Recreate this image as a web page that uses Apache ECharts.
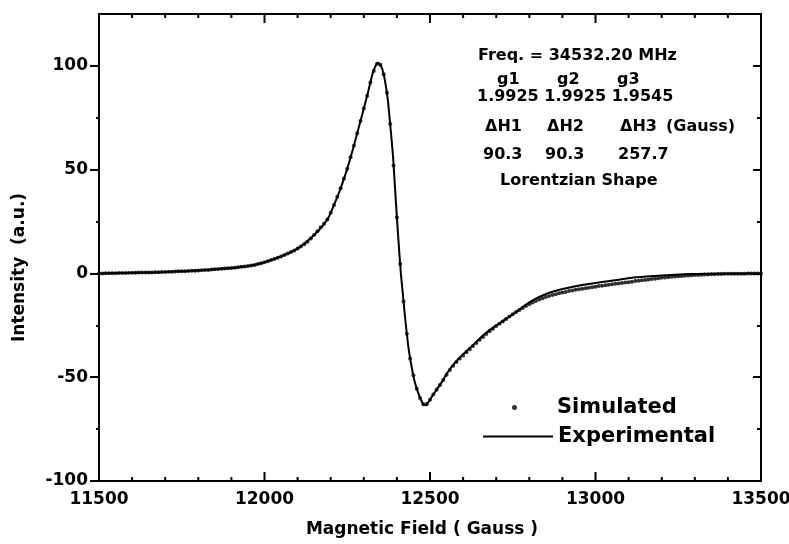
<!DOCTYPE html>
<html>
<head>
<meta charset="utf-8">
<script src="https://cdn.jsdelivr.net/npm/echarts@6/dist/echarts.min.js"></script>
<style>
  html, body { margin: 0; padding: 0; background: #fff; }
  #chart { width: 789px; height: 544px; }
</style>
</head>
<body>
<div id="chart"></div>
<script>
// EPR spectrum: experimental trace vs. simulated Lorentzian fit

// Experimental trace (field in Gauss, intensity in a.u.)
const expField = [
  11500, 11600, 11700, 11800, 11900, 11960, 12000, 12050, 12100, 12150,
  12190, 12210, 12230, 12250, 12270, 12290, 12310, 12328, 12343, 12352,
  12360, 12367, 12373, 12379, 12388, 12394, 12400, 12406, 12412, 12418,
  12424, 12430, 12436, 12448, 12457, 12469, 12478, 12485, 12495, 12505,
  12520, 12535, 12550, 12565, 12590, 12610, 12630, 12655, 12680, 12710,
  12735, 12760, 12785, 12810, 12835, 12870, 12915, 12960, 13015, 13070,
  13115, 13180, 13240, 13300, 13400, 13500
];
const expValue = [
  0, 0.3, 0.7, 1.4, 2.6, 3.8, 5.4, 8.2, 12, 18.5,
  26, 33, 41, 50.5, 61.5, 73.5, 85.5, 97, 101.5, 100,
  96, 90, 83, 73, 57, 42, 27, 13, 0, -10,
  -20, -29, -37, -48, -54, -59.5, -62.5, -63.5, -62, -59.5,
  -56, -52.5, -48.5, -45, -40.5, -37.5, -34.5, -30.6, -27.3, -24,
  -21.3, -18.6, -15.6, -13, -11, -8.8, -7, -5.6, -4.2, -3,
  -2, -1.2, -0.6, -0.3, -0.1, 0
];

// Simulated spectrum, sampled every 10 G
const simField = [
  11500, 11510, 11520, 11530, 11540, 11550, 11560, 11570, 11580, 11590,
  11600, 11610, 11620, 11630, 11640, 11650, 11660, 11670, 11680, 11690,
  11700, 11710, 11720, 11730, 11740, 11750, 11760, 11770, 11780, 11790,
  11800, 11810, 11820, 11830, 11840, 11850, 11860, 11870, 11880, 11890,
  11900, 11910, 11920, 11930, 11940, 11950, 11960, 11970, 11980, 11990,
  12000, 12010, 12020, 12030, 12040, 12050, 12060, 12070, 12080, 12090,
  12100, 12110, 12120, 12130, 12140, 12150, 12160, 12170, 12180, 12190,
  12200, 12210, 12220, 12230, 12240, 12250, 12260, 12270, 12280, 12290,
  12300, 12310, 12320, 12330, 12340, 12350, 12360, 12370, 12380, 12390,
  12400, 12410, 12420, 12430, 12440, 12450, 12460, 12470, 12480, 12490,
  12500, 12510, 12520, 12530, 12540, 12550, 12560, 12570, 12580, 12590,
  12600, 12610, 12620, 12630, 12640, 12650, 12660, 12670, 12680, 12690,
  12700, 12710, 12720, 12730, 12740, 12750, 12760, 12770, 12780, 12790,
  12800, 12810, 12820, 12830, 12840, 12850, 12860, 12870, 12880, 12890,
  12900, 12910, 12920, 12930, 12940, 12950, 12960, 12970, 12980, 12990,
  13000, 13010, 13020, 13030, 13040, 13050, 13060, 13070, 13080, 13090,
  13100, 13110, 13120, 13130, 13140, 13150, 13160, 13170, 13180, 13190,
  13200, 13210, 13220, 13230, 13240, 13250, 13260, 13270, 13280, 13290,
  13300, 13310, 13320, 13330, 13340, 13350, 13360, 13370, 13380, 13390,
  13400, 13410, 13420, 13430, 13440, 13450, 13460, 13470, 13480, 13490,
  13500
];
const simValue = [
  0.0, 0.0, 0.1, 0.1, 0.1, 0.1, 0.2, 0.2, 0.2, 0.3,
  0.3, 0.3, 0.4, 0.4, 0.4, 0.5, 0.5, 0.6, 0.6, 0.7,
  0.7, 0.8, 0.8, 0.9, 1.0, 1.0, 1.1, 1.2, 1.3, 1.3,
  1.4, 1.5, 1.6, 1.7, 1.9, 2.0, 2.1, 2.3, 2.4, 2.5,
  2.6, 2.8, 3.0, 3.2, 3.4, 3.6, 3.8, 4.1, 4.5, 4.9,
  5.4, 5.9, 6.5, 7.0, 7.6, 8.2, 8.9, 9.6, 10.3, 11.1,
  12.0, 13.0, 14.1, 15.3, 16.8, 18.5, 20.3, 22.2, 24.0, 26.0,
  29.3, 33.0, 37.0, 41.0, 45.7, 50.5, 56.0, 61.5, 67.5, 73.5,
  79.5, 85.5, 92.0, 97.5, 101.0, 100.6, 96.0, 87.0, 72.0, 52.0,
  27.0, 4.5, -13.5, -29.0, -41.0, -49.0, -55.5, -60.0, -63.0, -63.0,
  -60.8, -58.3, -56.0, -53.7, -51.3, -48.8, -46.5, -44.5, -42.7, -41.0,
  -39.5, -38.0, -36.5, -35.0, -33.5, -32.0, -30.6, -29.2, -27.9, -26.6,
  -25.3, -24.2, -23.1, -21.9, -20.8, -19.6, -18.6, -17.6, -16.6, -15.7,
  -14.8, -14.0, -13.3, -12.6, -12.0, -11.4, -10.9, -10.4, -10.0, -9.6,
  -9.2, -8.9, -8.5, -8.2, -7.9, -7.6, -7.4, -7.1, -6.9, -6.6,
  -6.4, -6.1, -5.9, -5.7, -5.5, -5.2, -5.0, -4.8, -4.6, -4.4,
  -4.2, -4.0, -3.7, -3.5, -3.3, -3.1, -2.9, -2.7, -2.5, -2.3,
  -2.1, -1.9, -1.8, -1.6, -1.5, -1.3, -1.2, -1.1, -1.0, -0.9,
  -0.8, -0.7, -0.6, -0.5, -0.5, -0.4, -0.4, -0.3, -0.3, -0.2,
  -0.2, -0.2, -0.1, -0.1, -0.1, -0.1, 0.0, 0.0, 0.0, 0.0,
  0.0
];

// Axis ticks
const xMajorTicks = [11500, 12000, 12500, 13000, 13500];
const xMinorTicks = [
  11600, 11700, 11800, 11900, 12100, 12200, 12300, 12400,
  12600, 12700, 12800, 12900, 13100, 13200, 13300, 13400
];
const yMajorTicks = [-100, -50, 0, 50, 100];
const yMinorTicks = [-75, -25, 25, 75];

// Fit parameters shown in the annotation block
const freqText = 'Freq. = 34532.20 MHz';
const gLabels = ['g1', 'g2', 'g3'];
const gValuesText = '1.9925 1.9925 1.9545';
const widthLabels = ['ΔH1', 'ΔH2', 'ΔH3', '(Gauss)'];
const widthValues = ['90.3', '90.3', '257.7'];
const shapeText = 'Lorentzian Shape';

const FONT = '"DejaVu Sans", "Liberation Sans", Arial, sans-serif';
const INK = '#000';
const Y_MIN = -100, Y_MAX = 125;

const pair = (xs, ys) => xs.map((x, i) => [x, ys[i]]);

const chart = echarts.init(document.getElementById('chart'), null, { renderer: 'canvas' });

const labelStyle = { fontFamily: FONT, fontWeight: 'bold', fontSize: 17, color: INK };
const lineOn = () => ({ show: true, onZero: false, lineStyle: { color: INK, width: 2 } });
const lineOff = () => ({ show: false, onZero: false });

// One frame side of the y direction: line (optional), one set of ticks, optional labels
function yAxisPart(position, ticks, inside, len, showLine, showLabel) {
  return {
    type: 'value', position: position, min: Y_MIN, max: Y_MAX,
    axisLine: showLine ? lineOn() : lineOff(),
    axisTick: { show: true, inside: inside, length: len, customValues: ticks,
      lineStyle: { color: INK, width: 2 } },
    axisLabel: showLabel
      ? Object.assign({ show: true, margin: 11, customValues: yMajorTicks }, labelStyle)
      : { show: false },
    splitLine: { show: false }
  };
}

function xAxisPart(position, showLabel) {
  return {
    type: 'value', position: position, min: 11500, max: 13500, interval: 500,
    axisLine: lineOn(),
    axisTick: { show: false },
    minorTick: { show: false },
    axisLabel: showLabel
      ? Object.assign({ show: true, margin: 10, formatter: (v) => String(v) }, labelStyle)
      : { show: false },
    splitLine: { show: false }
  };
}

// Inward tick marks on the bottom (edge = Y_MIN) or top (edge = Y_MAX) frame side,
// drawn as thin bars anchored on the edge through the axis scale
function edgeTicks(values, edge, len) {
  const dir = edge === Y_MIN ? -1 : 1;
  return {
    type: 'scatter', xAxisIndex: 0, yAxisIndex: 0, silent: true, clip: false, z: 5,
    symbol: 'rect', symbolSize: [2, len], symbolOffset: [0, dir * len / 2],
    data: values.map((v) => [v, edge]),
    itemStyle: { color: INK, opacity: 1 },
    emphasis: { disabled: true },
    tooltip: { show: false }
  };
}

function textEl(x, y, str) {
  return {
    type: 'text', x: x, y: y,
    style: { text: str, fontFamily: FONT, fontWeight: 'bold', fontSize: 16,
      fill: INK, align: 'left', verticalAlign: 'middle' }
  };
}

const annot = [
  textEl(478, 56, freqText),
  textEl(497, 80, gLabels[0]),
  textEl(557, 80, gLabels[1]),
  textEl(617, 80, gLabels[2]),
  textEl(477, 97, gValuesText),
  textEl(485, 127, widthLabels[0]),
  textEl(547, 127, widthLabels[1]),
  textEl(620, 127, widthLabels[2]),
  textEl(666, 127, widthLabels[3]),
  textEl(483, 155, widthValues[0]),
  textEl(545, 155, widthValues[1]),
  textEl(618, 155, widthValues[2]),
  textEl(500, 181, shapeText)
];

const legendText = { fontFamily: FONT, fontWeight: 'bold', fontSize: 21, color: INK };

const option = {
  backgroundColor: '#fff',
  animation: false,
  grid: { left: 99, right: 28, top: 14, bottom: 63, containLabel: false, outerBoundsMode: 'none' },
  xAxis: [
    Object.assign(xAxisPart('bottom', true), {
      name: 'Magnetic Field ( Gauss )',
      nameLocation: 'middle', nameGap: 40,
      nameTextStyle: Object.assign({ padding: [0, 16, 0, 0] }, labelStyle)
    }),
    xAxisPart('top', false)
  ],
  yAxis: [
    Object.assign(yAxisPart('left', yMajorTicks, false, 9, true, true), {
      name: 'Intensity  (a.u.)',
      nameLocation: 'middle', nameGap: 71,
      nameTextStyle: Object.assign({ padding: [0, 40, 0, 0] }, labelStyle)
    }),
    yAxisPart('left', yMinorTicks, false, 3, false, false),
    yAxisPart('right', yMajorTicks, true, 8, true, false),
    yAxisPart('right', yMinorTicks, true, 4, false, false)
  ],
  legend: [
    {
      data: ['Simulated'], left: 512, top: 397, padding: 0, orient: 'vertical',
      icon: 'circle', itemWidth: 5, itemHeight: 5,
      selectedMode: false,
      textStyle: Object.assign({ padding: [0, 0, 0, 35] }, legendText),
      itemStyle: { color: INK }
    },
    {
      data: ['Experimental'], left: 483, top: 426, padding: 0, orient: 'vertical',
      icon: 'rect', itemWidth: 70, itemHeight: 2,
      selectedMode: false, textStyle: legendText, itemStyle: { color: INK }
    }
  ],
  graphic: annot,
  series: [
    {
      name: 'Experimental', type: 'line', xAxisIndex: 0, yAxisIndex: 0,
      data: pair(expField, expValue),
      smooth: 0.25, showSymbol: false, symbol: 'none',
      lineStyle: { color: INK, width: 2 }, itemStyle: { color: INK },
      z: 2
    },
    {
      name: 'Simulated', type: 'scatter', xAxisIndex: 0, yAxisIndex: 0,
      data: pair(simField, simValue),
      symbol: 'circle', symbolSize: 4,
      itemStyle: { color: INK }, z: 3
    },
    edgeTicks(xMajorTicks, Y_MIN, 9),
    edgeTicks(xMinorTicks, Y_MIN, 4),
    edgeTicks(xMajorTicks, Y_MAX, 9),
    edgeTicks(xMinorTicks, Y_MAX, 4)
  ]
};

chart.setOption(option);
</script>
</body>
</html>
